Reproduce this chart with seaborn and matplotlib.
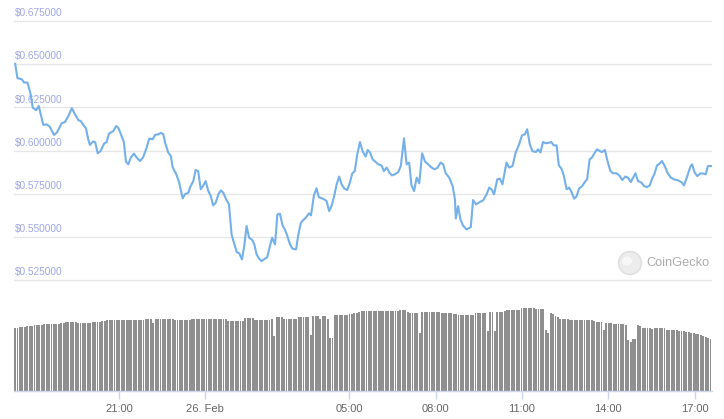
import matplotlib
matplotlib.use("Agg")
import matplotlib.pyplot as plt
from matplotlib.patches import Ellipse
from matplotlib.transforms import ScaledTranslation
import numpy as np
import pandas as pd
import seaborn as sns

# price, hours relative to 26 Feb 00:00
price_hours = [
    -6.61, -6.53, -6.38, -6.30, -6.18, -6.07, -6.00, -5.88, -5.79, -5.68,
    -5.63, -5.51, -5.40, -5.26, -5.16, -4.99, -4.88, -4.76, -4.64, -4.53,
    -4.41, -4.33, -4.24, -4.15, -4.07, -4.01, -3.91, -3.83, -3.74, -3.64,
    -3.52, -3.43, -3.35, -3.20, -3.10, -3.02, -2.91, -2.83, -2.76, -2.68,
    -2.59, -2.48, -2.39, -2.27, -2.16, -2.04, -1.95, -1.83, -1.75, -1.64,
    -1.54, -1.46, -1.40, -1.29, -1.20, -1.14, -1.00, -0.91, -0.79, -0.71,
    -0.59, -0.53, -0.42, -0.34, -0.25, -0.16, -0.07, 0.01, 0.10, 0.18,
    0.27, 0.36, 0.45, 0.54, 0.62, 0.72, 0.82, 0.91, 0.99, 1.09,
    1.18, 1.27, 1.35, 1.43, 1.52, 1.63, 1.70, 1.78, 1.87, 1.95,
    2.03, 2.15, 2.24, 2.32, 2.42, 2.50, 2.59, 2.68, 2.76, 2.84,
    2.94, 3.03, 3.15, 3.23, 3.32, 3.40, 3.49, 3.60, 3.67, 3.77,
    3.86, 3.94, 4.04, 4.13, 4.21, 4.30, 4.39, 4.48, 4.56, 4.65,
    4.73, 4.82, 4.93, 5.02, 5.10, 5.19, 5.27, 5.37, 5.46, 5.57,
    5.64, 5.72, 5.81, 5.92, 6.00, 6.12, 6.20, 6.30, 6.39, 6.48,
    6.58, 6.70, 6.79, 6.90, 6.99, 7.08, 7.16, 7.25, 7.34, 7.43,
    7.53, 7.63, 7.74, 7.86, 7.97, 8.07, 8.17, 8.26, 8.35, 8.47,
    8.59, 8.67, 8.70, 8.78, 8.86, 8.95, 9.07, 9.22, 9.30, 9.40,
    9.53, 9.65, 9.77, 9.86, 9.94, 10.03, 10.14, 10.23, 10.32, 10.46,
    10.55, 10.67, 10.78, 10.90, 11.00, 11.10, 11.18, 11.27, 11.36, 11.48,
    11.56, 11.64, 11.73, 11.83, 11.97, 12.02, 12.10, 12.20, 12.28, 12.37,
    12.45, 12.55, 12.64, 12.72, 12.81, 12.89, 12.98, 13.09, 13.18, 13.26,
    13.35, 13.43, 13.53, 13.61, 13.70, 13.78, 13.88, 13.97, 14.07, 14.16,
    14.28, 14.40, 14.48, 14.59, 14.68, 14.78, 14.86, 14.94, 15.03, 15.15,
    15.24, 15.34, 15.44, 15.52, 15.61, 15.69, 15.78, 15.86, 15.96, 16.05,
    16.17, 16.28, 16.42, 16.54, 16.63, 16.75, 16.85, 16.91, 17.00, 17.09,
    17.21, 17.31, 17.38, 17.46, 17.58,
]
price_usd = [
    0.6504, 0.6419, 0.6413, 0.6394, 0.6394, 0.6326, 0.6249, 0.6233, 0.6258, 0.6181,
    0.6148, 0.6152, 0.6136, 0.6090, 0.6104, 0.6158, 0.6165, 0.6200, 0.6245, 0.6210,
    0.6175, 0.6171, 0.6148, 0.6129, 0.6065, 0.6032, 0.6052, 0.6049, 0.5984, 0.5997,
    0.6040, 0.6049, 0.6098, 0.6113, 0.6142, 0.6129, 0.6084, 0.6046, 0.5936, 0.5920,
    0.5959, 0.5982, 0.5959, 0.5939, 0.5962, 0.6017, 0.6069, 0.6065, 0.6090, 0.6094,
    0.6102, 0.6094, 0.6046, 0.5988, 0.5968, 0.5904, 0.5858, 0.5814, 0.5723, 0.5746,
    0.5756, 0.5788, 0.5823, 0.5887, 0.5881, 0.5775, 0.5798, 0.5823, 0.5765, 0.5740,
    0.5682, 0.5698, 0.5746, 0.5769, 0.5756, 0.5717, 0.5688, 0.5514, 0.5466, 0.5411,
    0.5404, 0.5369, 0.5446, 0.5562, 0.5495, 0.5481, 0.5456, 0.5398, 0.5373, 0.5359,
    0.5369, 0.5382, 0.5446, 0.5495, 0.5456, 0.5630, 0.5634, 0.5566, 0.5543, 0.5508,
    0.5456, 0.5431, 0.5427, 0.5514, 0.5582, 0.5597, 0.5611, 0.5636, 0.5624, 0.5740,
    0.5781, 0.5730, 0.5723, 0.5717, 0.5707, 0.5649, 0.5682, 0.5740, 0.5804, 0.5849,
    0.5804, 0.5781, 0.5771, 0.5814, 0.5866, 0.5881, 0.5972, 0.6049, 0.5997, 0.5965,
    0.6003, 0.5988, 0.5949, 0.5933, 0.5920, 0.5914, 0.5881, 0.5901, 0.5872, 0.5856,
    0.5862, 0.5875, 0.5910, 0.6071, 0.5920, 0.5930, 0.5798, 0.5765, 0.5843, 0.5810,
    0.5984, 0.5936, 0.5920, 0.5901, 0.5891, 0.5901, 0.5930, 0.5920, 0.5868, 0.5843,
    0.5794, 0.5717, 0.5607, 0.5678, 0.5601, 0.5566, 0.5543, 0.5556, 0.5713, 0.5688,
    0.5701, 0.5711, 0.5746, 0.5785, 0.5775, 0.5746, 0.5833, 0.5837, 0.5804, 0.5930,
    0.5901, 0.5910, 0.5988, 0.6036, 0.6088, 0.6094, 0.6123, 0.6036, 0.5997, 0.5991,
    0.6007, 0.5988, 0.6049, 0.6042, 0.6046, 0.6049, 0.6030, 0.6030, 0.5914, 0.5895,
    0.5856, 0.5775, 0.5785, 0.5759, 0.5721, 0.5733, 0.5779, 0.5794, 0.5817, 0.5833,
    0.5949, 0.5959, 0.5988, 0.6007, 0.5997, 0.5991, 0.6003, 0.5939, 0.5881, 0.5868,
    0.5868, 0.5852, 0.5829, 0.5849, 0.5843, 0.5817, 0.5843, 0.5868, 0.5823, 0.5814,
    0.5794, 0.5788, 0.5798, 0.5837, 0.5868, 0.5914, 0.5924, 0.5939, 0.5910, 0.5872,
    0.5843, 0.5833, 0.5827, 0.5817, 0.5798, 0.5856, 0.5907, 0.5920, 0.5872, 0.5852,
    0.5868, 0.5866, 0.5862, 0.5910, 0.5910,
]

# 24h volume (million USD), one bar per 5 minutes
volume_musd = [
    634, 634, 636, 643, 645, 650, 652, 654, 656, 658, 661, 664,
    666, 667, 668, 668, 670, 671, 673, 682, 684, 686, 688, 690,
    690, 688, 684, 683, 683, 684, 683, 684, 690, 690, 686, 688,
    700, 703, 706, 710, 712, 713, 707, 707, 706, 707, 708, 707,
    710, 712, 710, 709, 711, 713, 722, 724, 723, 683, 722, 722,
    720, 719, 720, 718, 717, 716, 715, 707, 708, 707, 706, 707,
    708, 718, 720, 721, 719, 720, 721, 720, 718, 719, 720, 721,
    718, 717, 718, 716, 705, 703, 700, 698, 697, 697, 699, 728,
    731, 730, 727, 708, 707, 706, 706, 707, 708, 712, 722, 547,
    738, 740, 736, 718, 717, 716, 717, 716, 718, 738, 740, 741,
    740, 739, 557, 748, 750, 746, 723, 752, 749, 723, 533, 533,
    757, 760, 762, 760, 758, 761, 770, 775, 778, 780, 790, 797,
    797, 796, 797, 797, 798, 796, 797, 797, 796, 797, 797, 798,
    797, 800, 805, 810, 812, 806, 790, 780, 781, 779, 778, 580,
    790, 791, 790, 789, 790, 791, 790, 789, 783, 782, 780, 778,
    776, 773, 767, 765, 763, 760, 758, 757, 758, 760, 783, 784,
    783, 782, 783, 600, 790, 790, 600, 793, 793, 795, 797, 807,
    809, 811, 812, 813, 815, 830, 833, 834, 833, 832, 830, 823,
    822, 823, 824, 607, 580, 783, 767, 755, 740, 723, 720, 718,
    716, 714, 713, 713, 713, 712, 712, 711, 710, 709, 707, 697,
    695, 692, 690, 613, 680, 678, 676, 675, 673, 670, 668, 666,
    663, 513, 490, 523, 523, 657, 647, 633, 630, 628, 626, 623,
    633, 633, 633, 632, 633, 613, 613, 612, 613, 607, 603, 600,
    597, 593, 588, 583, 580, 575, 570, 563, 547, 538, 528, 517,
]

price_ticks = [0.525, 0.550, 0.575, 0.600, 0.625, 0.650, 0.675]
time_ticks = [-3, 0, 5, 8, 11, 14, 17]
time_labels = ["21:00", "26. Feb", "05:00", "08:00", "11:00", "14:00", "17:00"]

sns.set_style("white")
plt.rcParams["font.family"] = ["Liberation Sans", "DejaVu Sans"]

fig = plt.figure(figsize=(7.24, 4.19), dpi=100)
ax = fig.add_axes([0.0193, 0.3112, 0.9641, 0.6592])
ax_vol = fig.add_axes([0.0193, 0.0668, 0.9641, 0.2172])

xlim = (-6.65, 17.6)

# price line
sns.lineplot(x=price_hours, y=price_usd, ax=ax, color="#74b0ea", linewidth=1.5)
ax.set_xlim(*xlim)
ax.set_ylim(0.52, 0.68)
ax.set_yticks(price_ticks)
ax.set_yticklabels([f"${v:.6f}" for v in price_ticks])
ax.set_xticks([])
ax.grid(axis="y", color="#e6e6e6", linewidth=1)
ax.tick_params(axis="y", length=0, pad=-1, labelsize=7.3, labelcolor="#9ea7e6")
for lab in ax.get_yticklabels():
    lab.set_horizontalalignment("left")
    lab.set_verticalalignment("bottom")
    lab.set_transform(lab.get_transform() + ScaledTranslation(0, 2 / 72, fig.dpi_scale_trans))
for s in ax.spines.values():
    s.set_visible(False)
ax.set_xlabel("")
ax.set_ylabel("")

# volume bars
vol_hours = np.linspace(-6.61, 17.55, len(volume_musd))
vol_df = pd.DataFrame({"hour": vol_hours, "volume": volume_musd})
sns.barplot(data=vol_df, x="hour", y="volume", native_scale=True, errorbar=None,
            color="#8f8f8f", saturation=1, linewidth=0, width=0.78, ax=ax_vol)
ax_vol.set_xlim(*xlim)
ax_vol.set_ylim(0, 910)
ax_vol.set_yticks([])
ax_vol.set_xticks(time_ticks)
ax_vol.set_xticklabels(time_labels)
ax_vol.tick_params(axis="x", length=6, width=1, color="#ccd6eb", labelsize=8,
                   labelcolor="#666666", pad=3, bottom=True, direction="out")
for side in ["top", "left", "right"]:
    ax_vol.spines[side].set_visible(False)
ax_vol.spines["bottom"].set_color("#ccd6eb")
ax_vol.spines["bottom"].set_linewidth(1)
ax_vol.set_xlabel("")
ax_vol.set_ylabel("")

# CoinGecko watermark
fig.add_artist(Ellipse((630 / 724, 1 - 263 / 419), 23 / 724, 23 / 419,
                       transform=fig.transFigure, facecolor="#ececec",
                       edgecolor="#dedede", linewidth=1))
fig.add_artist(Ellipse((627 / 724, 1 - 261 / 419), 10 / 724, 9 / 419,
                       transform=fig.transFigure, facecolor="#f7f7f7",
                       edgecolor="none"))
fig.text(646 / 724, 1 - 263 / 419, "CoinGecko", color="#acacac", fontsize=9.2,
         ha="left", va="center")

fig.savefig("out.png", dpi=100)
